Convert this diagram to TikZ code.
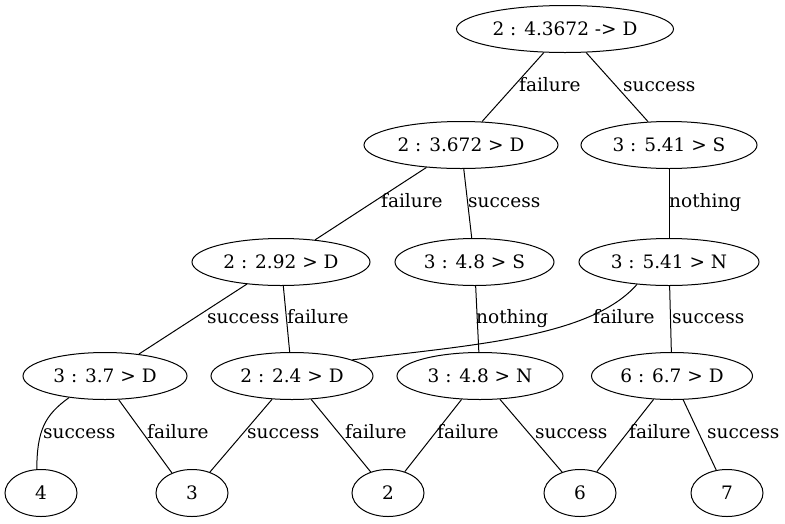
\documentclass[tikz,border=0pt]{standalone}
\usepackage{fontspec}
\setmainfont{DejaVu Serif}
\usetikzlibrary{shapes.geometric}
\begin{document}
\begin{tikzpicture}[x=1pt,y=-1pt,
  every node/.style={font=\fontsize{18.5}{22}\selectfont},
  st/.style={draw, ellipse, line width=1pt, inner sep=0pt, minimum height=47pt},
  lbl/.style={anchor=base west, inner sep=0pt},
  conn/.style={line width=1pt}]
\useasboundingbox (0,0) rectangle (785,523);
% nodes
\node[st, minimum width=217pt] (r) at (565,29) {2 : 4.3672 -> D};
\node[st, minimum width=194pt] (a) at (461,145) {2 : 3.672 > D};
\node[st, minimum width=176pt] (b) at (669,145) {3 : 5.41 > S};
\node[st, minimum width=178pt] (c) at (281,262) {2 : 2.92 > D};
\node[st, minimum width=159pt] (d) at (474.5,262) {3 : 4.8 > S};
\node[st, minimum width=180pt] (e) at (669,262) {3 : 5.41 > N};
\node[st, minimum width=164pt] (f) at (105,376) {3 : 3.7 > D};
\node[st, minimum width=162pt] (g) at (292,376) {2 : 2.4 > D};
\node[st, minimum width=166pt] (h) at (480,376) {3 : 4.8 > N};
\node[st, minimum width=161pt] (i) at (672,376) {6 : 6.7 > D};
\node[st, minimum width=72pt] (l4) at (41,493) {4};
\node[st, minimum width=72pt] (l3) at (192,493) {3};
\node[st, minimum width=72pt] (l2) at (388,493) {2};
\node[st, minimum width=72pt] (l6) at (580,493) {6};
\node[st, minimum width=72pt] (l7) at (727,493) {7};
% connectors
\draw[conn] (r) -- (a);
\draw[conn] (r) -- (b);
\draw[conn] (a) -- (c);
\draw[conn] (a) -- (d);
\draw[conn] (b) -- (e);
\draw[conn] (c) -- (f);
\draw[conn] (c) -- (g);
\draw[conn] (d) -- (h);
\draw[conn] (e.215) .. controls (590,338) and (470,345) .. (g.15);
\draw[conn] (e) -- (i);
\draw[conn] (f.211) .. controls (45,415) and (37,430) .. (l4.100);
\draw[conn] (f.300) -- (l3.135);
\draw[conn] (g) -- (l3);
\draw[conn] (g) -- (l2);
\draw[conn] (h) -- (l2);
\draw[conn] (h) -- (l6);
\draw[conn] (i) -- (l6);
\draw[conn] (i) -- (l7);
% labels
\node[lbl] (t1) at (519,91) {failure};
\node[lbl] (t2) at (623,91) {success};
\node[lbl] (t3) at (381,207) {failure};
\node[lbl] (t4) at (468,207) {success};
\node[lbl] (t5) at (669,207) {nothing};
\node[lbl] (t6) at (207,323) {success};
\node[lbl] (t7) at (287,323) {failure};
\node[lbl] (t8) at (476,323) {nothing};
\node[lbl] (t9) at (593,323) {failure};
\node[lbl] (t10) at (672,323) {success};
\node[lbl] (t11) at (43,438) {success};
\node[lbl] (t12) at (147,438) {failure};
\node[lbl] (t13) at (247,438) {success};
\node[lbl] (t14) at (345,438) {failure};
\node[lbl] (t15) at (437,438) {failure};
\node[lbl] (t16) at (535,438) {success};
\node[lbl] (t17) at (629,438) {failure};
\node[lbl] (t18) at (707,438) {success};
\end{tikzpicture}
\end{document}
